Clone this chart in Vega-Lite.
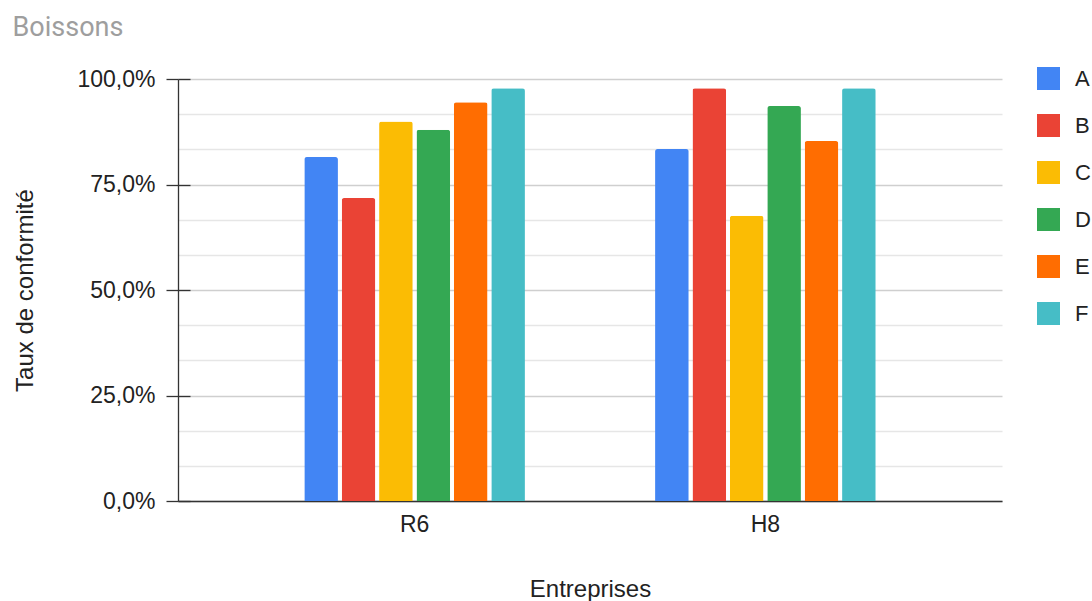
{
  "$schema": "https://vega.github.io/schema/vega-lite/v6.json",
  "width": 824,
  "height": 422,
  "autosize": {"type": "none"},
  "padding": {"left": 178, "top": 79, "right": 90, "bottom": 100},
  "background": "white",
  "config": {
    "view": {"stroke": null},
    "font": "Liberation Sans"
  },
  "data": {
    "values": [
      {"entreprise": "R6", "serie": "A", "taux": 0.815},
      {"entreprise": "R6", "serie": "B", "taux": 0.718},
      {"entreprise": "R6", "serie": "C", "taux": 0.899},
      {"entreprise": "R6", "serie": "D", "taux": 0.880},
      {"entreprise": "R6", "serie": "E", "taux": 0.945},
      {"entreprise": "R6", "serie": "F", "taux": 0.978},
      {"entreprise": "H8", "serie": "A", "taux": 0.834},
      {"entreprise": "H8", "serie": "B", "taux": 0.978},
      {"entreprise": "H8", "serie": "C", "taux": 0.676},
      {"entreprise": "H8", "serie": "D", "taux": 0.936},
      {"entreprise": "H8", "serie": "E", "taux": 0.853},
      {"entreprise": "H8", "serie": "F", "taux": 0.978}
    ]
  },
  "layer": [
    {
      "mark": {"type": "bar", "opacity": 0},
      "encoding": {
        "y": {
          "field": "taux",
          "type": "quantitative",
          "scale": {"domain": [0, 1], "nice": false},
          "axis": {
            "orient": "left",
            "values": [0, 0.083333, 0.166667, 0.25, 0.333333, 0.416667, 0.5, 0.583333, 0.666667, 0.75, 0.833333, 0.916667, 1],
            "grid": true,
            "gridColor": {"condition": {"test": "abs(datum.value*4 - round(datum.value*4)) < 0.001", "value": "#cfcfcf"}, "value": "#e6e6e6"},
            "gridWidth": 1.3,
            "labels": false,
            "domain": false,
            "title": "Boissons",
            "titleAngle": 0,
            "titleX": -166,
            "titleY": -44,
            "titleAlign": "left",
            "titleBaseline": "alphabetic",
            "titleFont": "Roboto",
            "titleFontSize": 27,
            "titleFontWeight": "normal",
            "titleColor": "#9e9e9e",
            "ticks": true,
            "tickSize": -12,
            "tickColor": "#333333",
            "tickWidth": 1.3,
            "tickOpacity": {"condition": {"test": "abs(datum.value*4 - round(datum.value*4)) < 0.001", "value": 1}, "value": 0}
          }
        }
      }
    },
    {
      "mark": {"type": "bar", "cornerRadiusTopLeft": 2.5, "cornerRadiusTopRight": 2.5},
      "encoding": {
        "x": {
          "field": "entreprise",
          "type": "nominal",
          "sort": ["R6", "H8"],
          "scale": {"paddingInner": 0.371, "paddingOuter": 0.36},
          "title": "Entreprises",
          "axis": {
            "labelAngle": 0,
            "ticks": false,
            "domain": true,
            "domainColor": "#333333",
            "domainWidth": 1.3,
            "labelFontSize": 23,
            "labelColor": "#222222",
            "labelPadding": 12,
            "titleFontSize": 24,
            "titleFontWeight": "normal",
            "titleColor": "#222222",
            "titlePadding": 41
          }
        },
        "xOffset": {
          "field": "serie",
          "type": "nominal",
          "scale": {"paddingInner": 0.1, "paddingOuter": 0}
        },
        "y": {
          "field": "taux",
          "type": "quantitative",
          "scale": {"domain": [0, 1], "nice": false},
          "axis": {
            "orient": "left",
            "values": [0, 0.25, 0.5, 0.75, 1],
            "labelExpr": "replace(format(datum.value, '.1%'), '.', ',')",
            "grid": false,
            "domain": true,
            "domainColor": "#333333",
            "domainWidth": 1.3,
            "tickSize": 12,
            "tickColor": "#333333",
            "tickWidth": 1.3,
            "labelFontSize": 23,
            "labelColor": "#222222",
            "labelPadding": 11,
            "title": "Taux de conformité",
            "titleFontSize": 24,
            "titleFontWeight": "normal",
            "titleColor": "#222222",
            "titlePadding": 39
          }
        },
        "color": {
          "field": "serie",
          "type": "nominal",
          "scale": {
            "domain": ["A", "B", "C", "D", "E", "F"],
            "range": ["#4285F4", "#EA4335", "#FBBC04", "#34A853", "#FF6D01", "#46BDC6"]
          },
          "legend": {
            "title": null,
            "orient": "none",
            "legendX": 859,
            "legendY": -12,
            "symbolType": "square",
            "symbolSize": 529,
            "symbolStrokeWidth": 0,
            "symbolOpacity": 1,
            "rowPadding": 24,
            "labelFontSize": 22,
            "labelColor": "#222222",
            "labelOffset": 15
          }
        }
      }
    }
  ],
  "resolve": {"axis": {"y": "independent"}}
}
